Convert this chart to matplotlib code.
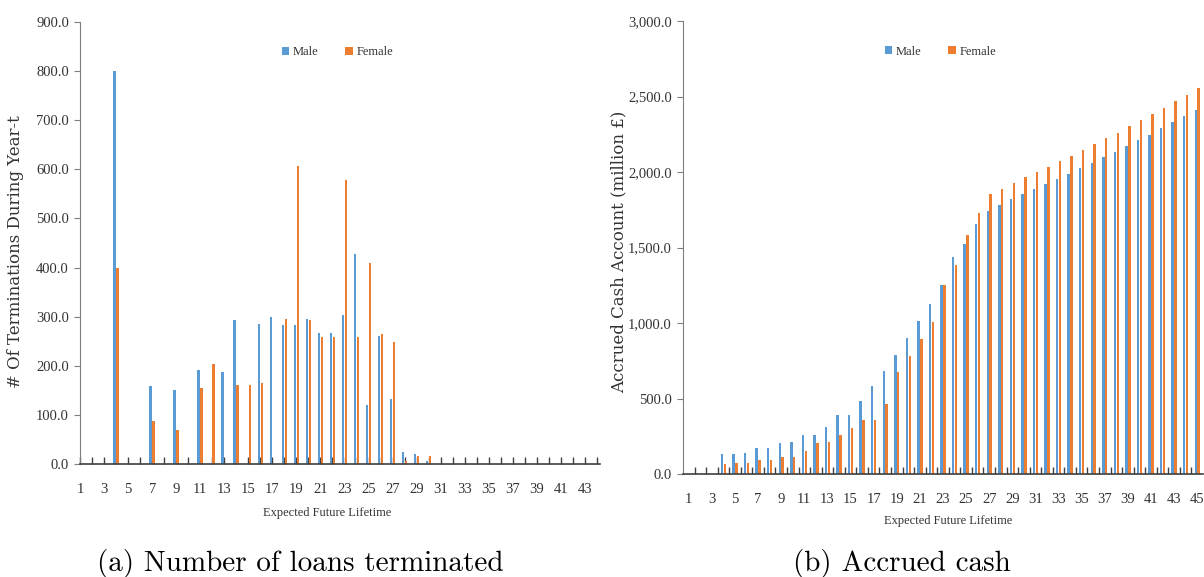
import numpy as np
import matplotlib
matplotlib.use("Agg")
import matplotlib.pyplot as plt
from matplotlib.ticker import FuncFormatter

plt.rcParams["font.family"] = ["Liberation Serif", "DejaVu Serif"]

# (a) loans terminated per year, categories 1..44
term_years = list(range(1, 45))
male_term = [0, 0, 0, 800, 0, 0, 158, 0, 150, 0, 192, 0, 187, 293, 0, 285, 300, 283, 284, 296,
             267, 266, 304, 428, 121, 261, 133, 24, 20, 6, 0, 0, 0, 0, 0, 0, 0, 0, 0, 0,
             0, 0, 0, 0]
female_term = [0, 0, 0, 400, 0, 0, 87, 0, 69, 0, 155, 203, 0, 160, 160, 165, 0, 295, 606, 294,
               258, 258, 578, 258, 409, 264, 248, 7, 16, 16, 0, 0, 0, 0, 0, 0, 0, 0, 0, 0,
               0, 0, 0, 0]

# (b) accrued cash (million GBP), categories 1..45
cash_years = list(range(1, 46))
male_cash = [0, 0, 0, 135, 135, 137, 172, 174, 207, 210, 256, 259, 311, 391, 394, 486, 583, 684,
             786, 901, 1011, 1126, 1252, 1439, 1521, 1656, 1742, 1781, 1821, 1854, 1887, 1921,
             1954, 1989, 2024, 2060, 2099, 2132, 2170, 2212, 2247, 2289, 2331, 2371, 2411]
female_cash = [0, 0, 0, 68, 70, 70, 93, 95, 110, 115, 155, 207, 211, 258, 307, 355, 360, 461,
               678, 784, 896, 1009, 1252, 1384, 1583, 1726, 1854, 1887, 1929, 1967, 2000, 2035,
               2073, 2106, 2146, 2183, 2223, 2261, 2302, 2342, 2384, 2426, 2468, 2512, 2556]

series_names = ["Male", "Female"]
blue = "#5B9BD5"
orange = "#ED7D31"

fig = plt.figure(figsize=(12.04, 5.77), dpi=100)
ax1 = fig.add_axes([80 / 1204, 1 - 464 / 577, 520 / 1204, 442 / 577])
ax2 = fig.add_axes([683 / 1204, 1 - 474 / 577, 520 / 1204, 453 / 577])

fmt = FuncFormatter(lambda v, p: "{:,.1f}".format(v))


def draw(ax, x, male, female, ymax, ystep, ylabel):
    x = np.array(x)
    w = 0.22
    ax.bar(x - 0.125, male, width=w, color=blue, label=series_names[0], zorder=2)
    ax.bar(x + 0.125, female, width=w, color=orange, label=series_names[1], zorder=2)
    ax.set_ylim(0, ymax)
    ax.set_yticks(np.arange(0, ymax + 1, ystep))
    ax.yaxis.set_major_formatter(fmt)
    for s in ["top", "right"]:
        ax.spines[s].set_visible(False)
    ax.spines["left"].set_color("#7f7f7f")
    ax.spines["bottom"].set_color("#404040")
    ax.spines["bottom"].set_linewidth(1.2)
    ax.tick_params(axis="y", direction="out", length=4, width=0.8, color="#7f7f7f",
                   labelsize=10.5, pad=4, labelcolor="#333333")
    ax.set_ylabel(ylabel, fontsize=12, color="#333333", family="DejaVu Serif")
    ax.set_xlabel("Expected Future Lifetime", fontsize=9, color="#333333")
    ax.legend(loc="center", bbox_to_anchor=(0.495, 0.932), ncol=2, frameon=False,
              fontsize=9, handlelength=0.6, handleheight=0.6, handletextpad=0.3,
              columnspacing=2.1, labelcolor="#333333")


draw(ax1, term_years, male_term, female_term, 900, 100, "# Of Terminations During Year-t")
draw(ax2, cash_years, male_cash, female_cash, 3000, 500, "Accrued Cash Account (million \u00a3)")

# left chart: ticks sit on the categories
ax1.set_xlim(1, 44.25)
ax1.set_xticks(term_years[::2])
ax1.set_xticks(term_years[1::2], minor=True)
ax1.tick_params(axis="x", which="both", direction="in", length=5, width=1, color="#404040",
                labelsize=10.5, pad=14, labelcolor="#333333")
ax1.yaxis.set_label_coords(-0.108, 0.48)
ax1.xaxis.set_label_coords(0.475, -0.097)

# right chart: ticks between the categories
ax2.set_xlim(0.5, 45.5)
ax2.set_xticks(cash_years[::2])
ax2.set_xticks(np.arange(1.5, 45, 1), minor=True)
ax2.tick_params(axis="x", which="major", length=0, labelsize=10.5, pad=14,
                labelcolor="#333333")
ax2.tick_params(axis="x", which="minor", direction="in", length=5, width=1, color="#404040")
ax2.yaxis.set_label_coords(-0.106, 0.49)
ax2.xaxis.set_label_coords(0.51, -0.09)

fig.text(300 / 1204, 1 - 563 / 577, "(a) Number of loans terminated", family="cmr10",
         fontsize=21, ha="center", va="center")
fig.text(902 / 1204, 1 - 563 / 577, "(b) Accrued cash", family="cmr10",
         fontsize=21, ha="center", va="center")

plt.savefig("out.png", dpi=100)
